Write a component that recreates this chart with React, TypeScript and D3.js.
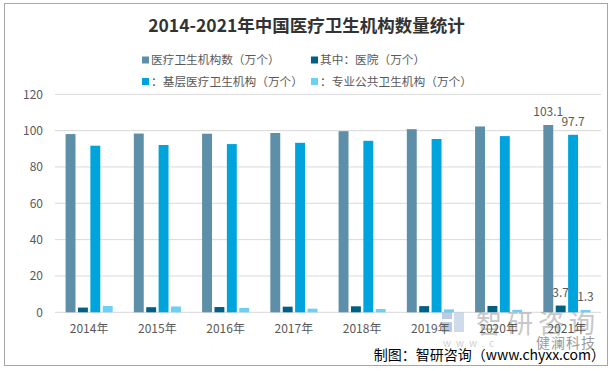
import React from "react";
import * as d3 from "d3";

const years = ["2014年", "2015年", "2016年", "2017年", "2018年", "2019年", "2020年", "2021年"];
const seriesNames = [
  "医疗卫生机构数（万个）",
  "其中：医院（万个）",
  "：基层医疗卫生机构（万个）",
  "：专业公共卫生机构（万个）",
];
const totalInst = [98.1, 98.4, 98.3, 98.7, 99.7, 100.8, 102.3, 103.1];
const hospitals = [2.6, 2.8, 2.9, 3.1, 3.3, 3.4, 3.5, 3.7];
const grassroots = [91.7, 92.1, 92.6, 93.3, 94.4, 95.4, 97.0, 97.7];
const publicHealth = [3.5, 3.2, 2.4, 2.0, 1.8, 1.6, 1.4, 1.3];
const yTicks = [0, 20, 40, 60, 80, 100, 120];
const colors = ["#5d90a8", "#005f84", "#00a4dc", "#6ccff5"];

const FONT = "'Noto Sans CJK SC', 'Noto Sans', sans-serif";

export default function App() {
  const W = 613, H = 371;
  const allSeries = [totalInst, hospitals, grassroots, publicHealth];

  const x0 = d3.scaleBand<string>().domain(years).range([55, 601]).paddingInner(0.31).paddingOuter(0.155);
  const x1 = d3.scaleBand<number>().domain([0, 1, 2, 3]).range([0, x0.bandwidth()]).paddingInner(0.2);
  const y = d3.scaleLinear().domain([0, 120]).range([312.3, 94.3]);

  const lastIdx = years.length - 1;

  return (
    <svg width={W} height={H} style={{ position: "absolute", left: 0, top: 0 }} fontFamily={FONT}>
      <rect x={0} y={0} width={W} height={H} fill="#fff" />
      <rect x={4.5} y={3.5} width={603} height={362} fill="none" stroke="#a6a6a6" strokeWidth={1} />

      <text x={W / 2} y={32} textAnchor="middle" fontSize={17.5} fontWeight="bold" fill="#333">
        2014-2021年中国医疗卫生机构数量统计
      </text>

      {/* legend */}
      {seriesNames.map((name, i) => {
        const lx = i % 2 === 0 ? 142 : 311;
        const ly = i < 2 ? 60 : 81.5;
        return (
          <g key={name}>
            <rect x={lx} y={ly - 3.5} width={7} height={7} fill={colors[i]} />
            <text x={lx + 9} y={ly + 4.3} fontSize={11.7} fill="#595959">{name}</text>
          </g>
        );
      })}

      {/* grid + y axis */}
      {yTicks.map((t) => (
        <g key={t}>
          <line x1={55} x2={601} y1={y(t)} y2={y(t)} stroke="#d9d9d9" strokeWidth={1} />
          <text x={43} y={y(t) + 4.5} textAnchor="end" fontSize={12} fill="#595959">{t}</text>
        </g>
      ))}

      {/* watermark */}
      <g opacity={0.7}>
        <rect x={442} y={312} width={10} height={7} fill="#9fb7d6" />
        <rect x={442} y={322} width={10} height={10} fill="#9fb7d6" />
        <rect x={454} y={312} width={10} height={20} fill="#b9cde3" />
        <text x={476} y={333} fontSize={26} fill="#b0b0b0" letterSpacing={5}>智研咨询</text>
        <text x={443} y={347} fontSize={10} fill="#bdbdbd" letterSpacing={5}>www.c</text>
      </g>
      <text x={536} y={348} fontSize={14} fill="#9a9a9a" letterSpacing={1}>健澜科技</text>

      {/* bars */}
      {years.map((yr, i) => (
        <g key={yr} transform={`translate(${x0(yr)},0)`}>
          {allSeries.map((s, j) => (
            <rect
              key={j}
              x={x1(j)}
              y={y(s[i])}
              width={x1.bandwidth()}
              height={y(0) - y(s[i])}
              fill={colors[j]}
            />
          ))}
        </g>
      ))}

      {/* data labels for last year */}
      {allSeries.map((s, j) => (
        <text
          key={j}
          x={(x0(years[lastIdx]) ?? 0) + (x1(j) ?? 0) + x1.bandwidth() / 2}
          y={y(s[lastIdx]) - 9}
          textAnchor="middle"
          fontSize={12}
          fill="#595959"
        >
          {s[lastIdx]}
        </text>
      ))}

      {/* x labels */}
      {years.map((yr) => (
        <text key={yr} x={(x0(yr) ?? 0) + x0.bandwidth() / 2} y={333} textAnchor="middle" fontSize={12} fill="#595959">
          {yr}
        </text>
      ))}

      <text x={605} y={360} textAnchor="end" fontSize={14} fill="#000">制图：智研咨询（www.chyxx.com）</text>
    </svg>
  );
}
